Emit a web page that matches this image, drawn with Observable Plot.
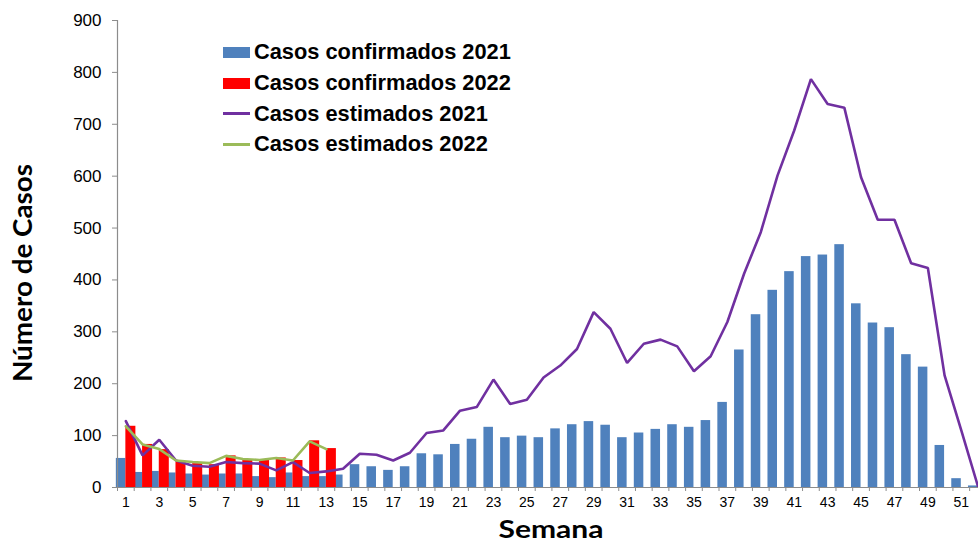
<!DOCTYPE html>
<html>
<head>
<meta charset="utf-8">
<script src="https://cdn.jsdelivr.net/npm/d3@7"></script>
<script src="https://cdn.jsdelivr.net/npm/@observablehq/plot@0.6"></script>
<style>
  body { margin: 0; background: #fff; }
  #wrap { position: relative; width: 978px; height: 544px; overflow: hidden; background: #fff; }
  #legend { position: absolute; left: 223px; top: 37px; font-family: "Liberation Sans", Arial, sans-serif; font-weight: bold; font-size: 21.8px; color: #000; }
  .row { height: 30.7px; display: flex; align-items: center; white-space: nowrap; }
  .sw { width: 27px; margin-right: 4px; flex: none; }
  .ytitle, .xtitle { position: absolute; font-family: "Lato", "Open Sans", sans-serif; font-weight: bold; color: #000; white-space: nowrap; line-height: 1; }
  .ytitle { left: 22px; top: 273px; font-size: 26px; transform: translate(-50%, -50%) rotate(-90deg) scaleX(1.07); }
  .xtitle { left: 551px; top: 528px; font-size: 25px; transform: translate(-50%, -50%) scaleX(1.2); }
</style>
</head>
<body>
<div id="wrap">
  <div id="chart"></div>
  <div id="legend"></div>
  <div class="ytitle">Número de Casos</div>
  <div class="xtitle">Semana</div>
</div>
<script>
const weeks = [1,2,3,4,5,6,7,8,9,10,11,12,13,14,15,16,17,18,19,20,21,22,23,24,25,26,
  27,28,29,30,31,32,33,34,35,36,37,38,39,40,41,42,43,44,45,46,47,48,49,50,51,52];
const weeks2022 = [1,2,3,4,5,6,7,8,9,10,11,12,13];
const confirmados2021 = [56,29,31,28,26,24,26,26,21,19,28,21,21,24,44,40,33,40,65,63,83,93,116,96,99,96,
  113,121,127,120,96,105,112,121,116,129,164,265,333,380,416,445,448,468,354,317,308,256,232,81,17,3];
const confirmados2022 = [118,83,73,49,46,44,61,52,52,57,52,90,75];
const estimados2021 = [128,62,92,52,42,40,49,47,46,33,49,28,31,36,65,63,52,67,105,110,148,155,208,161,169,212,
  235,267,338,306,240,277,285,272,224,253,319,412,492,601,688,787,739,732,598,516,516,432,423,216,110,2];
const estimados2022 = [118,83,74,52,49,47,61,55,53,57,52,89,74];
const yTicks = [0,100,200,300,400,500,600,700,800,900];
const xLabelWeeks = [1,3,5,7,9,11,13,15,17,19,21,23,25,27,29,31,33,35,37,39,41,43,45,47,49,51];
const seriesNames = ["Casos confirmados 2021","Casos confirmados 2022","Casos estimados 2021","Casos estimados 2022"];
const colors = ["#4F81BD","#FF0000","#7030A0","#9BBB59"];

const conf21 = weeks.map((w,i) => ({week: w, value: confirmados2021[i]}));
const conf22 = weeks2022.map((w,i) => ({week: w, value: confirmados2022[i]}));
const est21 = weeks.map((w,i) => ({week: w, value: estimados2021[i]}));
const est22 = weeks2022.map((w,i) => ({week: w, value: estimados2022[i]}));
const boundaries = weeks.map(w => w - 0.5);

const chart = Plot.plot({
  width: 978,
  height: 544,
  marginLeft: 117,
  marginRight: 0,
  marginTop: 20,
  marginBottom: 57,
  style: {fontFamily: "'Liberation Sans', Arial, sans-serif", color: "#000", background: "#fff"},
  x: {type: "linear", domain: [0.5, 52.03]},
  y: {domain: [0, 900]},
  marks: [
    Plot.rect(conf21, {x1: d => d.week - 0.57, x2: d => d.week, y1: 0, y2: "value", fill: colors[0]}),
    Plot.rect(conf22, {x1: d => d.week, x2: d => d.week + 0.6, y1: 0, y2: "value", fill: colors[1]}),
    Plot.line(est21, {x: "week", y: "value", stroke: colors[2], strokeWidth: 2.6, strokeLinejoin: "miter"}),
    Plot.line(est22, {x: "week", y: "value", stroke: colors[3], strokeWidth: 2.6, strokeLinejoin: "miter"}),
    Plot.ruleY([0], {stroke: "#8c8c8c", strokeWidth: 1.2}),
    Plot.ruleX([0.5], {y1: 0, y2: 900, stroke: "#8c8c8c", strokeWidth: 1.2}),
    Plot.axisY({ticks: yTicks, tickSize: 5, tickPadding: 11, fontSize: 17, stroke: "#8c8c8c", fill: "#000", label: null}),
    Plot.axisX({ticks: boundaries, tickSize: 4, tickFormat: () => "", stroke: "#8c8c8c", label: null}),
    Plot.axisX({ticks: xLabelWeeks, tickSize: 0, tickPadding: 10, fontSize: 14, fill: "#000", label: null})
  ]
});
document.getElementById("chart").appendChild(chart);

const legend = document.getElementById("legend");
seriesNames.forEach((name, i) => {
  const row = document.createElement("div");
  row.className = "row";
  const sw = document.createElement("div");
  sw.className = "sw";
  sw.style.background = colors[i];
  sw.style.height = i < 2 ? "11px" : "2.5px";
  row.appendChild(sw);
  const t = document.createElement("span");
  t.textContent = name;
  row.appendChild(t);
  legend.appendChild(row);
});
</script>
</body>
</html>
